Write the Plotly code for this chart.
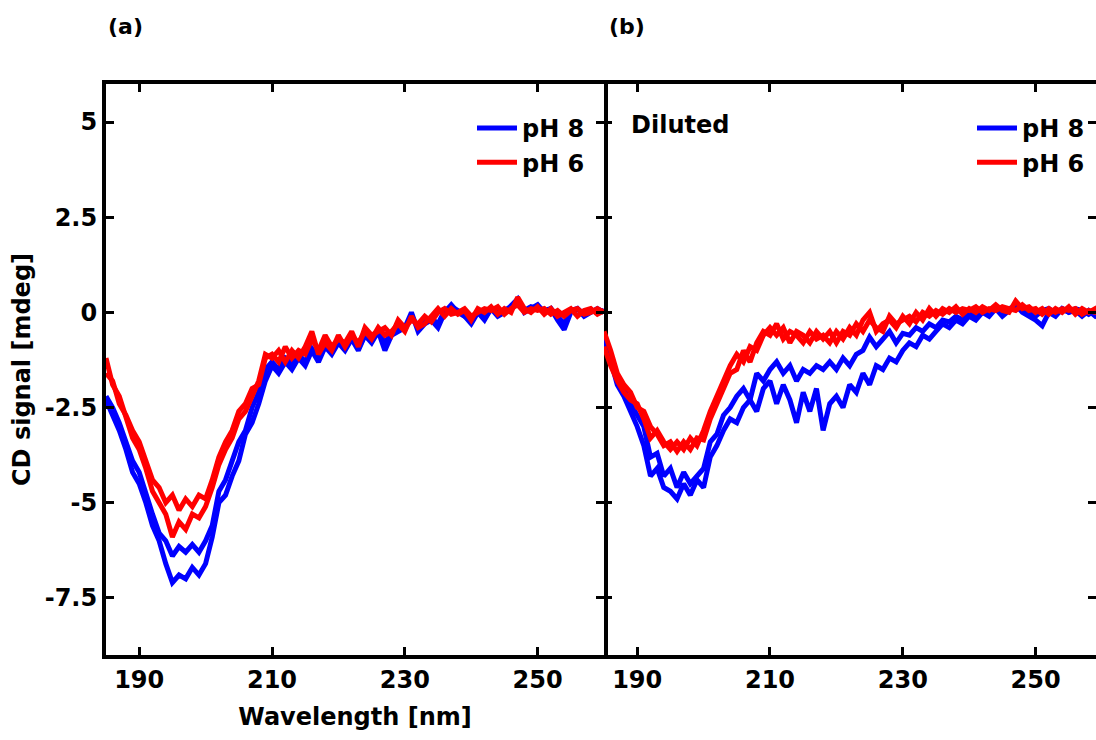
import plotly.graph_objects as go

wavelength = list(range(185, 261))

# Panel (a)
a_ph8_1 = [-2.3, -2.7, -3.1, -3.6, -4.2, -4.5, -5.0, -5.6, -6.0, -6.6,
           -7.1, -6.9, -7.0, -6.7, -6.9, -6.6, -5.9, -5.0, -4.8, -4.3,
           -3.9, -3.2, -2.9, -2.4, -1.8, -1.4, -1.6, -1.3, -1.5, -1.2,
           -1.4, -1.0, -1.3, -0.9, -1.1, -0.8, -1.0, -0.7, -1.0, -0.6,
           -0.8, -0.5, -1.0, -0.6, -0.5, -0.4, 0.0, -0.5, -0.3, -0.2,
           -0.4, 0.0, 0.2, 0.0, -0.1, -0.3, 0.0, -0.2, 0.1, -0.1,
           0.0, 0.2, 0.35, 0.0, 0.1, 0.2, 0.0, 0.1, -0.2, -0.45,
           0.0, 0.1, -0.1, 0.0, 0.1, 0.0]
a_ph8_2 = [-2.2, -2.5, -2.9, -3.4, -3.9, -4.2, -4.8, -5.3, -5.8, -6.0,
           -6.4, -6.15, -6.3, -6.1, -6.3, -6.0, -5.6, -4.7, -4.4, -3.9,
           -3.4, -3.1, -2.5, -2.1, -1.5, -1.3, -1.5, -1.2, -1.35, -1.1,
           -1.3, -0.95, -1.2, -0.8, -1.05, -0.75, -0.9, -0.65, -0.95, -0.6,
           -0.75, -0.45, -0.8, -0.55, -0.4, -0.45, -0.1, -0.4, -0.25, -0.15,
           -0.3, 0.05, 0.15, 0.05, -0.1, -0.2, 0.05, -0.15, 0.1, 0.0,
           0.05, 0.15, 0.3, 0.05, 0.15, 0.1, 0.05, 0.1, -0.1, -0.3,
           0.05, 0.1, -0.05, 0.05, 0.0, 0.05]
a_ph6_1 = [-1.2, -1.9, -2.2, -2.8, -3.3, -3.6, -4.1, -4.7, -5.0, -5.3,
           -5.9, -5.5, -5.7, -5.3, -5.4, -5.1, -4.6, -4.0, -3.6, -3.3,
           -2.8, -2.6, -2.2, -1.8, -1.1, -1.2, -1.0, -1.3, -1.0, -1.2,
           -0.9, -0.5, -1.1, -0.8, -1.0, -0.6, -0.9, -0.6, -0.8, -0.5,
           -0.7, -0.4, -0.6, -0.5, -0.3, -0.5, -0.1, -0.4, -0.3, -0.1,
           0.1, -0.1, 0.1, -0.05, 0.05, -0.2, 0.1, 0.0, 0.15, -0.05,
           0.1, 0.0, 0.4, 0.1, 0.0, 0.15, -0.05, 0.1, -0.1, 0.0,
           0.1, -0.1, 0.05, 0.1, -0.05, 0.05]
a_ph6_2 = [-1.6, -1.8, -2.4, -2.7, -3.1, -3.4, -3.9, -4.4, -4.6, -5.0,
           -4.8, -5.2, -4.9, -5.1, -4.8, -4.9, -4.4, -3.8, -3.4, -3.1,
           -2.6, -2.4, -2.0, -1.9, -1.2, -1.1, -1.3, -0.9, -1.2, -1.0,
           -1.1, -0.7, -1.0, -0.6, -0.9, -0.7, -0.8, -0.5, -0.9, -0.4,
           -0.6, -0.5, -0.4, -0.6, -0.2, -0.4, -0.2, -0.3, -0.1, -0.25,
           0.0, 0.1, -0.05, 0.0, 0.1, -0.1, 0.0, 0.1, 0.05, 0.15,
           -0.05, 0.1, 0.2, 0.0, 0.1, 0.05, 0.1, -0.05, 0.05, -0.1,
           0.05, 0.1, -0.05, 0.0, 0.1, 0.0]

# Panel (b) - Diluted
b_ph8_1 = [-0.6, -1.3, -1.9, -2.2, -2.6, -3.0, -3.5, -4.3, -4.1, -4.6,
           -4.7, -4.9, -4.5, -4.8, -4.4, -4.6, -3.8, -3.5, -3.1, -2.8,
           -2.9, -2.5, -2.3, -2.6, -2.0, -1.8, -2.4, -1.9, -2.3, -2.9,
           -2.1, -2.6, -2.0, -3.1, -2.4, -2.2, -2.5, -1.9, -2.1, -1.6,
           -1.9, -1.4, -1.5, -1.2, -1.3, -1.0, -0.8, -0.9, -0.6, -0.7,
           -0.5, -0.3, -0.4, -0.2, -0.3, -0.1, -0.2, 0.0, -0.1, 0.1,
           -0.1, 0.05, 0.2, 0.0, -0.1, -0.2, -0.35, 0.0, -0.1, 0.1,
           0.0, 0.05, -0.1, 0.05, -0.1, 0.0]
b_ph8_2 = [-0.8, -1.1, -1.7, -2.0, -2.4, -2.7, -3.0, -3.8, -3.7, -4.3,
           -4.1, -4.6, -4.2, -4.5, -4.3, -4.1, -3.4, -3.2, -2.7, -2.5,
           -2.2, -2.0, -2.3, -1.6, -1.8, -1.5, -1.3, -1.6, -1.4, -1.8,
           -1.5, -1.6, -1.4, -1.5, -1.3, -1.5, -1.2, -1.4, -1.1, -1.0,
           -0.65, -0.9, -0.7, -0.5, -0.8, -0.55, -0.6, -0.4, -0.5, -0.3,
           -0.4, -0.2, -0.25, -0.1, -0.2, 0.0, -0.1, 0.05, -0.05, 0.1,
           0.0, 0.1, 0.15, 0.05, 0.0, -0.1, 0.05, 0.1, -0.05, 0.1,
           0.0, 0.1, 0.05, -0.05, 0.05, 0.0]
b_ph6_1 = [-0.5, -1.0, -1.6, -1.9, -2.1, -2.5, -2.6, -3.0, -3.2, -3.5,
           -3.4, -3.65, -3.4, -3.6, -3.3, -3.35, -2.8, -2.4, -2.0, -1.6,
           -1.5, -1.0, -1.3, -0.8, -0.5, -0.6, -0.3, -0.7, -0.5, -0.6,
           -0.8, -0.5, -0.7, -0.6, -0.8, -0.5, -0.7, -0.4, -0.6, -0.2,
           0.0, -0.5, -0.3, -0.2, -0.4, -0.1, -0.3, 0.0, -0.2, 0.1,
           -0.1, 0.1, 0.0, 0.15, -0.05, 0.1, 0.0, 0.15, 0.05, 0.2,
           0.05, 0.0, 0.3, 0.1, 0.15, 0.0, 0.1, -0.05, 0.1, 0.0,
           0.15, -0.05, 0.1, 0.0, 0.1, -0.05]
b_ph6_2 = [-0.9, -1.4, -1.8, -2.1, -2.3, -2.4, -2.8, -3.3, -3.1, -3.4,
           -3.6, -3.4, -3.6, -3.3, -3.5, -3.1, -2.6, -2.2, -1.8, -1.4,
           -1.1, -1.3, -0.9, -1.0, -0.6, -0.4, -0.6, -0.4, -0.8, -0.5,
           -0.6, -0.8, -0.5, -0.7, -0.5, -0.8, -0.5, -0.6, -0.3, -0.5,
           -0.2, -0.4, -0.5, -0.1, -0.3, -0.2, -0.1, -0.25, 0.0, -0.1,
           0.05, -0.05, 0.1, 0.0, 0.1, 0.05, 0.15, 0.0, 0.1, 0.05,
           0.15, 0.1, 0.05, 0.2, 0.05, 0.1, -0.05, 0.1, 0.0, 0.1,
           0.05, 0.1, -0.05, 0.05, 0.0, 0.05]

x_ticks = [190, 210, 230, 250]
y_ticks = [5, 2.5, 0, -2.5, -5, -7.5]
y_tick_text = ["5", "2.5", "0", "-2.5", "-5", "-7.5"]

BLUE = "#0000ff"
RED = "#ff0000"
FONT = "DejaVu Sans"
LW = 5

# plot-area geometry in pixels (for placing text in paper coordinates)
PL, PR, PT, PB = 106, 1096, 84, 655
def px(xp):
    return (xp - PL) / (PR - PL)
def py(yp):
    return (PB - yp) / (PB - PT)

fig = go.Figure()

def add(y, color, name, xa, ya, show, legend):
    fig.add_trace(go.Scatter(
        x=wavelength, y=y, mode="lines", name=name,
        line=dict(color=color, width=LW),
        xaxis=xa, yaxis=ya, showlegend=show, legend=legend,
        hoverinfo="skip"))

add(a_ph8_1, BLUE, "pH 8", "x", "y", True, "legend")
add(a_ph8_2, BLUE, "pH 8", "x", "y", False, "legend")
add(a_ph6_2, RED, "pH 6", "x", "y", False, "legend")
add(a_ph6_1, RED, "pH 6", "x", "y", True, "legend")

add(b_ph8_1, BLUE, "pH 8", "x2", "y2", True, "legend2")
add(b_ph8_2, BLUE, "pH 8", "x2", "y2", False, "legend2")
add(b_ph6_2, RED, "pH 6", "x2", "y2", False, "legend2")
add(b_ph6_1, RED, "pH 6", "x2", "y2", True, "legend2")

# invisible trace so the right-side tick axis is drawn
fig.add_trace(go.Scatter(x=[200], y=[0], mode="markers", marker=dict(opacity=0),
                         xaxis="x2", yaxis="y3", showlegend=False, hoverinfo="skip"))

tickfont = dict(family=FONT, size=24, color="black", weight="bold")
tick_common = dict(ticks="inside", ticklen=8, tickwidth=3, tickcolor="black",
                   showgrid=False, zeroline=False, tickfont=tickfont)
line_common = dict(showline=True, linecolor="black", linewidth=4)

split = 498 / 990

fig.update_layout(
    width=1096, height=740,
    margin=dict(l=PL, r=1096 - PR, t=PT, b=740 - PB),
    plot_bgcolor="white", paper_bgcolor="white",
    font=dict(family=FONT, color="black"),
    xaxis=dict(domain=[0, split], range=[185, 260], tickvals=x_ticks,
               mirror="ticks", anchor="y",
               title=dict(text="Wavelength [nm]",
                          font=dict(family=FONT, size=24, weight="bold"),
                          standoff=16),
               **line_common, **tick_common),
    xaxis2=dict(domain=[split, 1], range=[185, 259.1], tickvals=x_ticks,
                mirror="ticks", anchor="y2", **line_common, **tick_common),
    yaxis=dict(domain=[0, 1], range=[-9, 6], tickvals=y_ticks, ticktext=y_tick_text,
               mirror="ticks", anchor="x",
               title=dict(text="CD signal [mdeg]",
                          font=dict(family=FONT, size=24, weight="bold"),
                          standoff=8),
               **line_common, **tick_common),
    yaxis2=dict(domain=[0, 1], range=[-9, 6], tickvals=y_ticks,
                showticklabels=False, showline=False, anchor="x2", **tick_common),
    yaxis3=dict(range=[-9, 6], tickvals=y_ticks, showticklabels=False,
                overlaying="y2", side="right", anchor="x2",
                showline=False, **tick_common),
    legend=dict(x=px(590), y=py(106), xref="paper", yref="paper",
                xanchor="right", yanchor="top", bgcolor="rgba(0,0,0,0)",
                font=dict(family=FONT, size=24, color="black", weight="bold"),
                itemwidth=40, tracegroupgap=0),
    legend2=dict(x=px(1090), y=py(106), xref="paper", yref="paper",
                 xanchor="right", yanchor="top", bgcolor="rgba(0,0,0,0)",
                 font=dict(family=FONT, size=24, color="black", weight="bold"),
                 itemwidth=40, tracegroupgap=0),
    annotations=[
        dict(text="(a)", x=px(106), y=py(27), xref="paper", yref="paper",
             xanchor="left", yanchor="middle", showarrow=False,
             font=dict(family=FONT, size=22, weight="bold", color="black")),
        dict(text="(b)", x=px(607), y=py(27), xref="paper", yref="paper",
             xanchor="left", yanchor="middle", showarrow=False,
             font=dict(family=FONT, size=22, weight="bold", color="black")),
        dict(text="Diluted", x=px(629), y=py(125), xref="paper", yref="paper",
             xanchor="left", yanchor="middle", showarrow=False,
             font=dict(family=FONT, size=24, weight="bold", color="black")),
    ],
)

fig.write_html("out.html")
